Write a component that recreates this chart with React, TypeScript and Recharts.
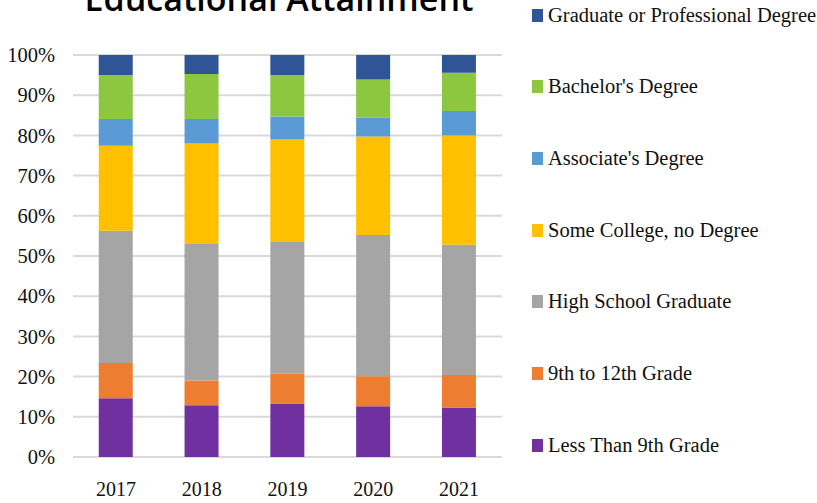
import React from 'react';
import { BarChart, Bar, XAxis, YAxis, CartesianGrid } from 'recharts';

// Survey years
const years = ['2017', '2018', '2019', '2020', '2021'];

// Share of population (%) by attainment level, bottom of the stack first
const lessThan9th = [14.6, 12.9, 13.3, 12.6, 12.3];
const grade9to12 = [8.8, 6.1, 7.4, 7.5, 8.1];
const highSchool = [32.9, 34.0, 33.0, 35.1, 32.4];
const someCollege = [21.1, 25.0, 25.3, 24.5, 27.2];
const associate = [6.7, 6.1, 5.7, 4.7, 6.1];
const bachelor = [10.9, 11.2, 10.3, 9.5, 9.5];
const graduate = [5.0, 4.7, 5.0, 6.1, 4.4];

const yTicks = [0, 10, 20, 30, 40, 50, 60, 70, 80, 90, 100];

const series = [
  { key: 'lessThan9th', name: 'Less Than 9th Grade', values: lessThan9th, color: '#7030A0' },
  { key: 'grade9to12', name: '9th to 12th Grade', values: grade9to12, color: '#ED7D31' },
  { key: 'highSchool', name: 'High School Graduate', values: highSchool, color: '#A5A5A5' },
  { key: 'someCollege', name: 'Some College, no Degree', values: someCollege, color: '#FFC000' },
  { key: 'associate', name: "Associate's Degree", values: associate, color: '#5B9BD5' },
  { key: 'bachelor', name: "Bachelor's Degree", values: bachelor, color: '#8DC63F' },
  { key: 'graduate', name: 'Graduate or Professional Degree', values: graduate, color: '#2F5597' },
];

const chartData = years.map((year, i) => {
  const row: any = { year };
  series.forEach(s => {
    row[s.key] = s.values[i];
  });
  return row;
});

const serif = '"Liberation Serif", "Times New Roman", serif';

const App: React.FC = () => {
  // legend reads top-down, opposite to the stacking order
  const legendItems = [...series].reverse();

  return (
    <div style={{ position: 'relative', width: 817, height: 503, background: '#fff', overflow: 'hidden' }}>
      <style>{'body { margin: 0; }'}</style>
      <BarChart
        width={817}
        height={503}
        data={chartData}
        margin={{ top: 55, right: 315, left: 8, bottom: 16 }}
        barCategoryGap="30%"
      >
        <CartesianGrid vertical={false} stroke="#d9d9d9" strokeWidth={2} />
        <XAxis
          dataKey="year"
          axisLine={false}
          tickLine={false}
          tickSize={0}
          tickMargin={25}
          tick={{ fill: '#111', fontSize: 20, fontFamily: serif }}
        />
        <YAxis
          width={65}
          domain={[0, 100]}
          ticks={yTicks}
          axisLine={false}
          tickLine={false}
          tickSize={0}
          tickMargin={18}
          tickFormatter={(v: number) => `${v}%`}
          tick={{ fill: '#111', fontSize: 20.5, fontFamily: serif }}
        />
        {series.map(s => (
          <Bar
            key={s.key}
            dataKey={s.key}
            name={s.name}
            stackId="edu"
            fill={s.color}
            isAnimationActive={false}
          />
        ))}
      </BarChart>

      <svg width={817} height={40} style={{ position: 'absolute', left: 0, top: 0 }}>
        <text
          x={279}
          y={11}
          textAnchor="middle"
          fontSize={34}
          fontWeight={600}
          fontFamily='"Open Sans", "Noto Sans", sans-serif'
          fill="#000"
        >
          Educational Attainment
        </text>
      </svg>

      {legendItems.map((s, i) => (
        <div
          key={s.key}
          style={{
            position: 'absolute',
            left: 532,
            top: 15 + i * 71.7 - 12,
            height: 24,
            display: 'flex',
            alignItems: 'center',
            whiteSpace: 'nowrap',
          }}
        >
          <span style={{ display: 'inline-block', width: 11, height: 13, background: s.color, marginRight: 5 }} />
          <span style={{ fontFamily: serif, fontSize: 20.5, color: '#111' }}>{s.name}</span>
        </div>
      ))}
    </div>
  );
};

export default App;
